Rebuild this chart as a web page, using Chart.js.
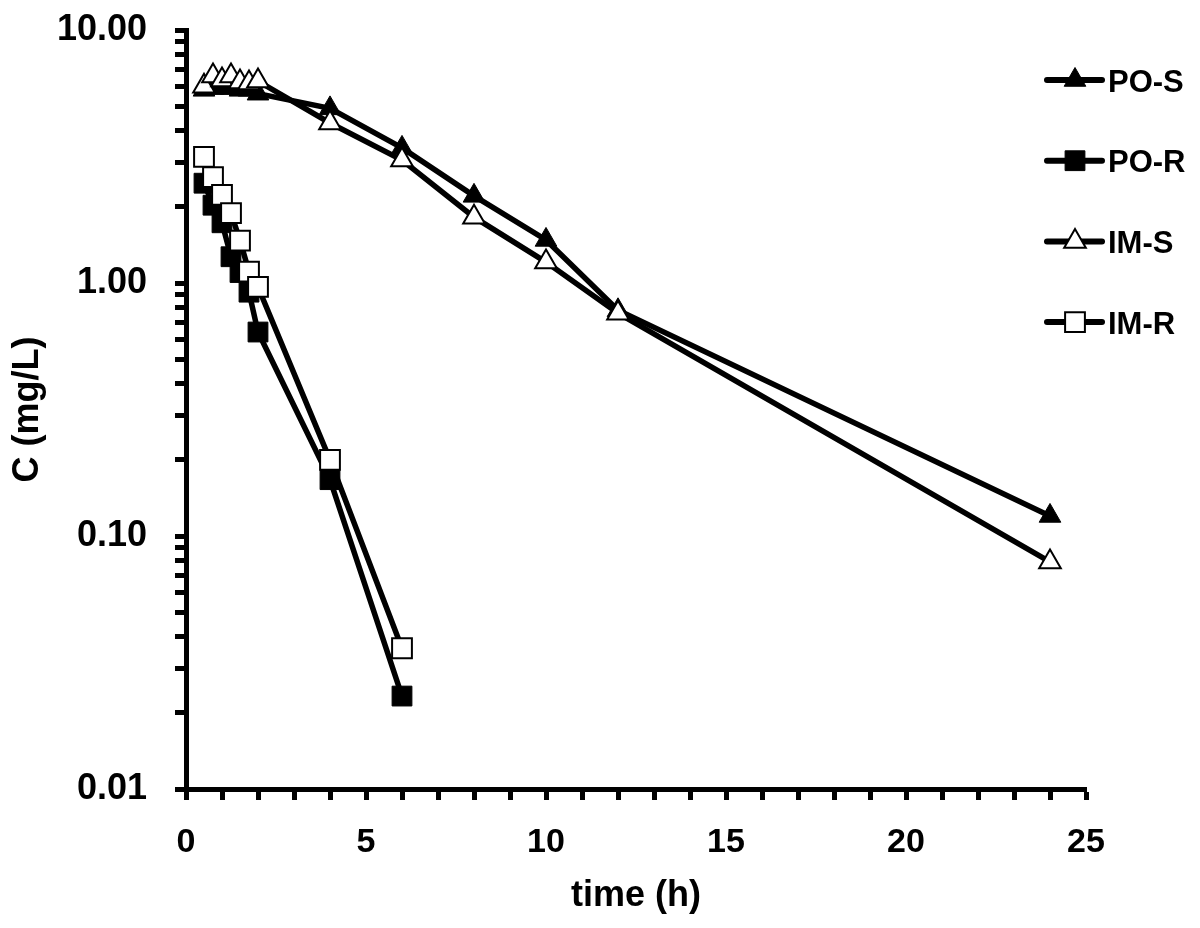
<!DOCTYPE html>
<html>
<head>
<meta charset="utf-8">
<script src="https://cdn.jsdelivr.net/npm/chart.js@4.4.0/dist/chart.umd.min.js"></script>
<style>
html, body { margin: 0; padding: 0; background: #fff; }
</style>
</head>
<body>
<canvas id="grafikKadar" width="1200" height="928"></canvas>
<script>
// sampling times (h)
const timeS = [0.5, 0.75, 1, 1.25, 1.5, 1.75, 2, 4, 6, 8, 10, 12, 24];
const timeR = [0.5, 0.75, 1, 1.25, 1.5, 1.75, 2, 4, 6];

// concentrations (mg/L)
const poS = [5.8, 5.9, 5.9, 5.9, 5.8, 5.8, 5.6, 4.9, 3.42, 2.21, 1.48, 0.78, 0.12];
const poR = [2.48, 2.03, 1.73, 1.27, 1.10, 0.92, 0.64, 0.167, 0.0233];
const imS = [6.0, 6.58, 6.34, 6.58, 6.23, 6.17, 6.28, 4.29, 3.06, 1.82, 1.21, 0.76, 0.079];
const imR = [3.15, 2.62, 2.23, 1.89, 1.47, 1.11, 0.965, 0.20, 0.036];

const xTickLabels = [0, 5, 10, 15, 20, 25];
const yTickValues = [0.01, 0.1, 1, 10];
const yTickLabels = ["0.01", "0.10", "1.00", "10.00"];

const fontFamily = '"Liberation Sans", Arial, sans-serif';

function pts(xs, ys) {
    return xs.map((t, i) => ({ x: t, y: ys[i] }));
}

function seri(label, xs, ys, style, radius, fill, order) {
    return {
        label: label,
        data: pts(xs, ys),
        borderColor: "#000",
        borderWidth: 5.5,
        tension: 0,
        fill: false,
        pointStyle: style,
        pointRadius: radius,
        pointBackgroundColor: fill,
        pointBorderColor: "#000",
        pointBorderWidth: fill === "#fff" ? 2 : 1,
        order: order,
    };
}

// legend drawn inside the plot, top right
const legendKanan = {
    id: "legendKanan",
    afterDraw(chart) {
        const ctx = chart.ctx;
        ctx.save();
        chart.data.datasets.forEach((ds, i) => {
            const y = 80 + i * 80.7;
            ctx.strokeStyle = "#000";
            ctx.lineWidth = 6;
            ctx.lineCap = "round";
            ctx.beginPath();
            ctx.moveTo(1047, y);
            ctx.lineTo(1102, y);
            ctx.stroke();
            ctx.lineCap = "butt";
            ctx.fillStyle = ds.pointBackgroundColor;
            ctx.lineWidth = ds.pointBorderWidth;
            Chart.helpers.drawPoint(ctx, {
                pointStyle: ds.pointStyle,
                radius: ds.pointRadius,
                rotation: 0,
                borderWidth: ds.pointBorderWidth,
            }, 1075, y);
            ctx.fillStyle = "#000";
            ctx.font = "bold 31px " + fontFamily;
            ctx.textBaseline = "middle";
            ctx.textAlign = "left";
            ctx.fillText(ds.label, 1108, y + 3);
        });
        ctx.restore();
    },
};

new Chart(document.getElementById("grafikKadar"), {
    type: "line",
    data: {
        datasets: [
            seri("PO-S", timeS, poS, "triangle", 12.5, "#000", 2),
            seri("PO-R", timeR, poR, "rect", 14, "#000", 2),
            seri("IM-S", timeS, imS, "triangle", 12.5, "#fff", 1),
            seri("IM-R", timeR, imR, "rect", 14, "#fff", 1),
        ],
    },
    options: {
        responsive: false,
        animation: false,
        events: [],
        layout: { padding: { left: 0, top: 30, right: 114, bottom: 0 } },
        plugins: {
            legend: { display: false },
            tooltip: { enabled: false },
        },
        scales: {
            x: {
                type: "linear",
                min: 0,
                max: 25,
                border: { display: true, color: "#000", width: 5 },
                grid: {
                    drawOnChartArea: false,
                    drawTicks: true,
                    tickLength: 11,
                    tickColor: "#000",
                    tickWidth: 5,
                },
                ticks: {
                    stepSize: 1,
                    autoSkip: false,
                    maxRotation: 0,
                    color: "#000",
                    padding: 22,
                    font: { family: fontFamily, size: 34, weight: "bold" },
                    callback: (v) => (xTickLabels.includes(v) ? String(v) : ""),
                },
                title: {
                    display: true,
                    text: "time (h)",
                    color: "#000",
                    font: { family: fontFamily, size: 36, weight: "bold" },
                    padding: { top: 0, bottom: 10 },
                },
                afterFit: (s) => {
                    s.height = 139;
                    s.paddingRight = 10;
                },
            },
            y: {
                type: "logarithmic",
                min: 0.01,
                max: 10,
                border: { display: true, color: "#000", width: 5 },
                grid: {
                    drawOnChartArea: false,
                    drawTicks: true,
                    tickLength: 11,
                    tickColor: "#000",
                    tickWidth: 5,
                },
                ticks: {
                    autoSkip: false,
                    color: "#000",
                    padding: 28,
                    font: { family: fontFamily, size: 36, weight: "bold" },
                    callback: (v) => {
                        const k = yTickValues.findIndex((t) => Math.abs(t - v) < t * 1e-6);
                        return k >= 0 ? yTickLabels[k] : "";
                    },
                },
                afterBuildTicks: (s) => {
                    const ticks = [];
                    for (let e = -2; e < 1; e++) {
                        for (let m = 1; m < 10; m++) {
                            const v = +(m * Math.pow(10, e)).toPrecision(6);
                            ticks.push({ value: v, major: m === 1 });
                        }
                    }
                    ticks.push({ value: 10, major: true });
                    s.ticks = ticks;
                },
                title: {
                    display: true,
                    text: "C (mg/L)",
                    color: "#000",
                    font: { family: fontFamily, size: 36, weight: "bold" },
                    padding: { top: 6, bottom: 0 },
                },
                afterFit: (s) => {
                    s.width = 186;
                    s.paddingTop = 20;
                    s.paddingBottom = 20;
                },
            },
        },
    },
    plugins: [legendKanan],
});
</script>
</body>
</html>
